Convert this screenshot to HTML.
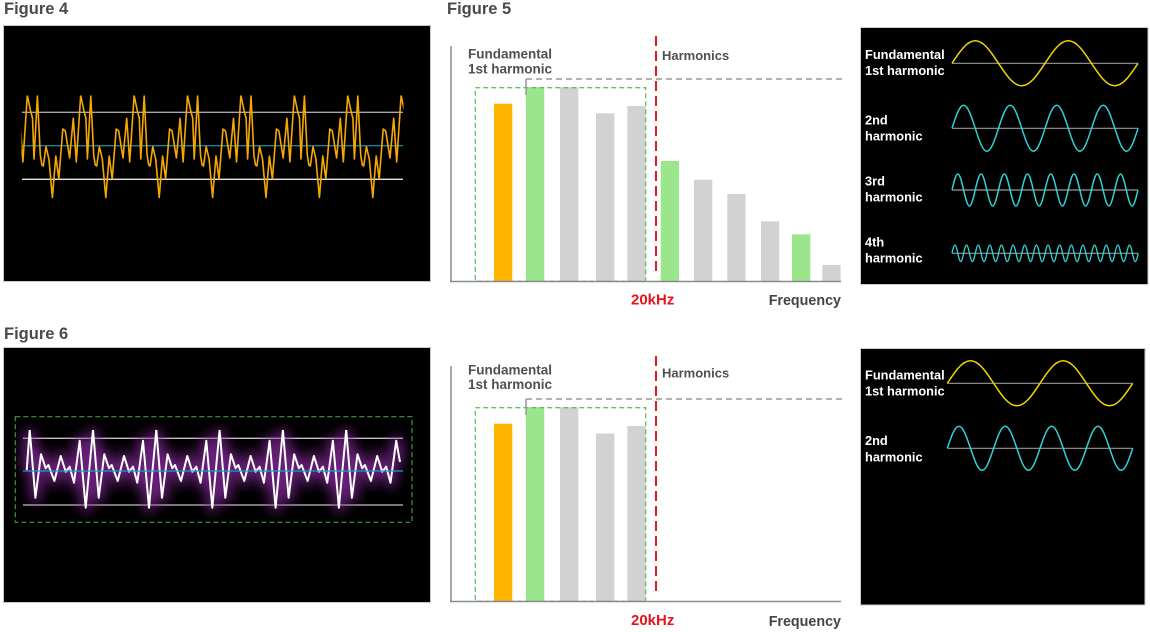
<!DOCTYPE html>
<html><head><meta charset="utf-8"><style>
html,body{margin:0;padding:0;background:#fff;}
svg{display:block;font-family:"Liberation Sans",Arial,sans-serif;}
</style></head><body>
<svg width="1150" height="632" viewBox="0 0 1150 632" xmlns="http://www.w3.org/2000/svg" xmlns:xlink="http://www.w3.org/1999/xlink">
<defs>
<path id="p4" d="M0,95.5 L3.5,112 5.2,118 6.7,159 10.1,96 13,155 14.6,165 16,166 18.7,146.7 21.6,159 25.1,197.5 28.5,156 31.5,179 35.5,129 38,131 42.3,158 46,118.3 49,162 53.4,95.5"/>
<clipPath id="c4"><rect x="21.5" y="25" width="382" height="256"/></clipPath>
<path id="p6" d="M0,430 L5.7,497.7 11.3,454.3 16,468.3 18.7,465 24.7,481 31,456 36,471.7 40,466.7 44.3,482.7 50,440.7 56,507.7 63.3,430"/>
<g id="w6">
<path d="M26.7,470 L29.7,430"/>
<use href="#p6" x="29.7"/>
<use href="#p6" x="93"/>
<use href="#p6" x="156.3"/>
<use href="#p6" x="219.6"/>
<use href="#p6" x="282.9"/>
<path d="M346.2,430 L351.9,497.7 357.5,454.3 362.2,468.3 364.9,465 370.9,481 377.2,456 382.2,471.7 386.2,466.7 390.5,482.7 396.2,440.7 400,462"/>
</g>
<filter id="gl" filterUnits="userSpaceOnUse" x="0" y="390" width="430" height="160"><feGaussianBlur stdDeviation="6"/></filter>
</defs>
<rect width="1150" height="632" fill="#fff"/>

<!-- Titles -->
<text x="4" y="14" font-size="16.5" font-weight="bold" fill="#4a4a4a">Figure 4</text>
<text x="447" y="14" font-size="16.5" font-weight="bold" fill="#4a4a4a">Figure 5</text>
<text x="4" y="339" font-size="16.5" font-weight="bold" fill="#4a4a4a">Figure 6</text>

<!-- Figure 4 panel -->
<rect x="3.5" y="25.5" width="427" height="256" fill="#000" stroke="#c8c8c8" stroke-width="1"/>
<line x1="22" y1="112.3" x2="403" y2="112.3" stroke="#a8a8a8" stroke-width="1.3"/>
<line x1="22" y1="145.7" x2="403" y2="145.7" stroke="#1f7d9a" stroke-width="1.3"/>
<line x1="22" y1="179.3" x2="403" y2="179.3" stroke="#e8e8e8" stroke-width="1.3"/>
<g clip-path="url(#c4)" stroke="#f5a800" stroke-width="1.6" fill="none" stroke-linejoin="round">
<use href="#p4" x="-26.1"/>
<use href="#p4" x="27.3"/>
<use href="#p4" x="80.7"/>
<use href="#p4" x="134.1"/>
<use href="#p4" x="187.5"/>
<use href="#p4" x="240.9"/>
<use href="#p4" x="294.3"/>
<use href="#p4" x="347.7"/>
<use href="#p4" x="401.1"/>
</g>

<!-- Figure 6 panel -->
<rect x="3.5" y="347.5" width="427" height="255" fill="#000" stroke="#c8c8c8" stroke-width="1"/>
<line x1="23" y1="438.3" x2="403" y2="438.3" stroke="#c8c0c8" stroke-width="1.3"/>
<line x1="23" y1="505" x2="403" y2="505" stroke="#c8c0c8" stroke-width="1.3"/>
<use href="#w6" stroke="#8a2aa0" stroke-width="10" fill="none" stroke-linejoin="round" filter="url(#gl)" opacity="0.75"/>
<use href="#w6" stroke="#ffffff" stroke-width="2" fill="none" stroke-linejoin="round"/>
<line x1="23" y1="471" x2="403" y2="471" stroke="#1a9ad6" stroke-width="1.3"/>
<rect x="15.3" y="416.7" width="396.7" height="105.6" fill="none" stroke="#3c9a3c" stroke-width="1.2" stroke-dasharray="5 3"/>

<!-- Figure 5 bar chart -->
<g>
<rect x="494" y="103.7" width="18.3" height="177.6" fill="#ffb400"/>
<rect x="526" y="87.3" width="18.3" height="194" fill="#9be68c"/>
<rect x="560" y="87.3" width="18.3" height="194" fill="#d2d2d2"/>
<rect x="596" y="113.3" width="18.3" height="168" fill="#d2d2d2"/>
<rect x="627.3" y="106" width="18.3" height="175.3" fill="#d2d2d2"/>
<rect x="660.7" y="161" width="18.3" height="120.3" fill="#9be68c"/>
<rect x="694" y="179.7" width="18.3" height="101.6" fill="#d2d2d2"/>
<rect x="727.3" y="194" width="18.3" height="87.3" fill="#d2d2d2"/>
<rect x="761" y="221.3" width="18.3" height="60" fill="#d2d2d2"/>
<rect x="792" y="234.3" width="18.3" height="47" fill="#9be68c"/>
<rect x="822.3" y="265" width="18.3" height="16.3" fill="#d2d2d2"/>
<rect x="475.3" y="87.7" width="170.4" height="193.6" fill="none" stroke="#63c063" stroke-width="1.3" stroke-dasharray="5 3"/>
<line x1="526" y1="79" x2="846" y2="79" stroke="#999" stroke-width="1.5" stroke-dasharray="6 4"/>
<line x1="526" y1="79" x2="526" y2="95" stroke="#999" stroke-width="1.5"/>
<line x1="656" y1="36" x2="656" y2="276" stroke="#e8182a" stroke-width="2" stroke-dasharray="10 5"/>
<line x1="451" y1="46" x2="451" y2="282" stroke="#8a8a8a" stroke-width="1.5"/>
<line x1="450" y1="281.5" x2="841" y2="281.5" stroke="#8a8a8a" stroke-width="1.5"/>
<text x="468" y="58.3" font-size="13.5" font-weight="bold" fill="#505050">Fundamental</text>
<text x="468" y="73.3" font-size="13.5" font-weight="bold" fill="#505050">1st harmonic</text>
<text x="662" y="60" font-size="13" font-weight="bold" fill="#505050">Harmonics</text>
<text x="631" y="304.3" font-size="15" font-weight="bold" fill="#e8141c">20kHz</text>
<text x="841" y="305" font-size="14.3" font-weight="bold" fill="#444" text-anchor="end">Frequency</text>
</g>

<!-- Figure 6 bar chart -->
<g>
<rect x="494" y="423.7" width="18.3" height="177.6" fill="#ffb400"/>
<rect x="526" y="407.3" width="18.3" height="194" fill="#9be68c"/>
<rect x="560" y="407.3" width="18.3" height="194" fill="#d2d2d2"/>
<rect x="596" y="433.5" width="18.3" height="167.8" fill="#d2d2d2"/>
<rect x="627.3" y="426" width="18.3" height="175.3" fill="#d2d2d2"/>
<rect x="475.3" y="407.7" width="170.4" height="193.6" fill="none" stroke="#63c063" stroke-width="1.3" stroke-dasharray="5 3"/>
<line x1="526" y1="399" x2="846" y2="399" stroke="#999" stroke-width="1.5" stroke-dasharray="6 4"/>
<line x1="526" y1="399" x2="526" y2="415" stroke="#999" stroke-width="1.5"/>
<line x1="656" y1="356" x2="656" y2="596" stroke="#e8182a" stroke-width="2" stroke-dasharray="10 5"/>
<line x1="451" y1="366" x2="451" y2="602" stroke="#8a8a8a" stroke-width="1.5"/>
<line x1="450" y1="601.5" x2="841" y2="601.5" stroke="#8a8a8a" stroke-width="1.5"/>
<text x="468" y="374.3" font-size="13.5" font-weight="bold" fill="#505050">Fundamental</text>
<text x="468" y="389" font-size="13.5" font-weight="bold" fill="#505050">1st harmonic</text>
<text x="662" y="377.7" font-size="13" font-weight="bold" fill="#505050">Harmonics</text>
<text x="631" y="625" font-size="15" font-weight="bold" fill="#e8141c">20kHz</text>
<text x="841" y="626" font-size="14.3" font-weight="bold" fill="#444" text-anchor="end">Frequency</text>
</g>

<!-- Figure 5 right panel -->
<rect x="860.5" y="27.5" width="287.5" height="257" fill="#000" stroke="#cccccc" stroke-width="1"/>
<g stroke="#9a9a9a" stroke-width="1.2">
<line x1="952" y1="63.3" x2="1138" y2="63.3"/>
<line x1="952" y1="128.3" x2="1138" y2="128.3"/>
<line x1="952" y1="190" x2="1138" y2="190"/>
<line x1="952" y1="253.3" x2="1138" y2="253.3"/>
</g>
<g fill="none" stroke-width="1.5" stroke-linejoin="round">
<path stroke="#ecd800" d="M952,63.3 c7.58,-11.53 14.84,-22.5 23.25,-22.5 s15.67,10.97 23.25,22.5 s14.84,22.5 23.25,22.5 s15.67,-10.97 23.25,-22.5 s14.84,-22.5 23.25,-22.5 s15.67,10.97 23.25,22.5 s14.84,22.5 23.25,22.5 s15.67,-10.97 23.25,-22.5"/>
<path stroke="#2fd3d6" d="M952,128.3 c3.79,-11.78 7.42,-23 11.63,-23 s7.84,11.22 11.63,23 s7.42,23 11.63,23 s7.84,-11.22 11.63,-23
 s7.42,-23 11.63,-23 s7.84,11.22 11.63,23 s7.42,23 11.63,23 s7.84,-11.22 11.63,-23
 s7.42,-23 11.63,-23 s7.84,11.22 11.63,23 s7.42,23 11.63,23 s7.84,-11.22 11.63,-23
 s7.42,-23 11.63,-23 s7.84,11.22 11.63,23 s7.42,23 11.63,23 s7.84,-11.22 11.63,-23"/>
<path stroke="#2fd3d6" d="M952,190 c1.89,-8.2 3.71,-16 5.81,-16 s3.92,7.8 5.81,16 s3.71,16 5.81,16 s3.92,-7.8 5.81,-16
 s3.71,-16 5.81,-16 s3.92,7.8 5.81,16 s3.71,16 5.81,16 s3.92,-7.8 5.81,-16
 s3.71,-16 5.81,-16 s3.92,7.8 5.81,16 s3.71,16 5.81,16 s3.92,-7.8 5.81,-16
 s3.71,-16 5.81,-16 s3.92,7.8 5.81,16 s3.71,16 5.81,16 s3.92,-7.8 5.81,-16
 s3.71,-16 5.81,-16 s3.92,7.8 5.81,16 s3.71,16 5.81,16 s3.92,-7.8 5.81,-16
 s3.71,-16 5.81,-16 s3.92,7.8 5.81,16 s3.71,16 5.81,16 s3.92,-7.8 5.81,-16
 s3.71,-16 5.81,-16 s3.92,7.8 5.81,16 s3.71,16 5.81,16 s3.92,-7.8 5.81,-16
 s3.71,-16 5.81,-16 s3.92,7.8 5.81,16 s3.71,16 5.81,16 s3.92,-7.8 5.81,-16"/>
<path stroke="#2fd3d6" stroke-width="1.3" d="M952,253.3 c0.95,-4.25 1.86,-8.3 2.91,-8.3 s1.96,4.05 2.91,8.3 s1.86,8.3 2.91,8.3 s1.96,-4.05 2.91,-8.3
 s1.86,-8.3 2.91,-8.3 s1.96,4.05 2.91,8.3 s1.86,8.3 2.91,8.3 s1.96,-4.05 2.91,-8.3
 s1.86,-8.3 2.91,-8.3 s1.96,4.05 2.91,8.3 s1.86,8.3 2.91,8.3 s1.96,-4.05 2.91,-8.3
 s1.86,-8.3 2.91,-8.3 s1.96,4.05 2.91,8.3 s1.86,8.3 2.91,8.3 s1.96,-4.05 2.91,-8.3
 s1.86,-8.3 2.91,-8.3 s1.96,4.05 2.91,8.3 s1.86,8.3 2.91,8.3 s1.96,-4.05 2.91,-8.3
 s1.86,-8.3 2.91,-8.3 s1.96,4.05 2.91,8.3 s1.86,8.3 2.91,8.3 s1.96,-4.05 2.91,-8.3
 s1.86,-8.3 2.91,-8.3 s1.96,4.05 2.91,8.3 s1.86,8.3 2.91,8.3 s1.96,-4.05 2.91,-8.3
 s1.86,-8.3 2.91,-8.3 s1.96,4.05 2.91,8.3 s1.86,8.3 2.91,8.3 s1.96,-4.05 2.91,-8.3
 s1.86,-8.3 2.91,-8.3 s1.96,4.05 2.91,8.3 s1.86,8.3 2.91,8.3 s1.96,-4.05 2.91,-8.3
 s1.86,-8.3 2.91,-8.3 s1.96,4.05 2.91,8.3 s1.86,8.3 2.91,8.3 s1.96,-4.05 2.91,-8.3
 s1.86,-8.3 2.91,-8.3 s1.96,4.05 2.91,8.3 s1.86,8.3 2.91,8.3 s1.96,-4.05 2.91,-8.3
 s1.86,-8.3 2.91,-8.3 s1.96,4.05 2.91,8.3 s1.86,8.3 2.91,8.3 s1.96,-4.05 2.91,-8.3
 s1.86,-8.3 2.91,-8.3 s1.96,4.05 2.91,8.3 s1.86,8.3 2.91,8.3 s1.96,-4.05 2.91,-8.3
 s1.86,-8.3 2.91,-8.3 s1.96,4.05 2.91,8.3 s1.86,8.3 2.91,8.3 s1.96,-4.05 2.91,-8.3
 s1.86,-8.3 2.91,-8.3 s1.96,4.05 2.91,8.3 s1.86,8.3 2.91,8.3 s1.96,-4.05 2.91,-8.3
 s1.86,-8.3 2.91,-8.3 s1.96,4.05 2.91,8.3 s1.86,8.3 2.91,8.3 s1.96,-4.05 2.91,-8.3"/>
</g>
<g font-size="12.8" font-weight="bold" fill="#ffffff">
<text x="865" y="59">Fundamental</text>
<text x="865" y="75">1st harmonic</text>
<text x="865" y="124.3">2nd</text>
<text x="865" y="140.7">harmonic</text>
<text x="865" y="185.7">3rd</text>
<text x="865" y="201.7">harmonic</text>
<text x="865" y="246.7">4th</text>
<text x="865" y="262.7">harmonic</text>
</g>

<!-- Figure 6 right panel -->
<rect x="860.5" y="348.5" width="284.5" height="256.5" fill="#000" stroke="#cccccc" stroke-width="1"/>
<g stroke="#9a9a9a" stroke-width="1.2">
<line x1="947.3" y1="383.3" x2="1132.7" y2="383.3"/>
<line x1="947.3" y1="448.3" x2="1132.7" y2="448.3"/>
</g>
<g fill="none" stroke-width="1.5" stroke-linejoin="round">
<path stroke="#ecd800" d="M947.3,383.3 c7.56,-11.53 14.79,-22.5 23.18,-22.5 s15.62,10.97 23.18,22.5 s14.79,22.5 23.18,22.5 s15.62,-10.97 23.18,-22.5 s14.79,-22.5 23.18,-22.5 s15.62,10.97 23.18,22.5 s14.79,22.5 23.18,22.5 s15.62,-10.97 23.18,-22.5"/>
<path stroke="#2fd3d6" d="M947.3,448.3 c3.78,-11.27 7.4,-22 11.59,-22 s7.81,10.73 11.59,22 s7.4,22 11.59,22 s7.81,-10.73 11.59,-22
 s7.4,-22 11.59,-22 s7.81,10.73 11.59,22 s7.4,22 11.59,22 s7.81,-10.73 11.59,-22
 s7.4,-22 11.59,-22 s7.81,10.73 11.59,22 s7.4,22 11.59,22 s7.81,-10.73 11.59,-22
 s7.4,-22 11.59,-22 s7.81,10.73 11.59,22 s7.4,22 11.59,22 s7.81,-10.73 11.59,-22"/>
</g>
<g font-size="12.8" font-weight="bold" fill="#ffffff">
<text x="865" y="379.3">Fundamental</text>
<text x="865" y="395.7">1st harmonic</text>
<text x="865" y="445">2nd</text>
<text x="865" y="461.7">harmonic</text>
</g>
</svg>
</body></html>
